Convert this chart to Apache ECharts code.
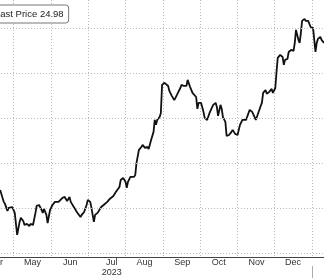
<!DOCTYPE html>
<html>
<head>
<meta charset="utf-8">
<script src="https://cdn.jsdelivr.net/npm/echarts@6/dist/echarts.min.js"></script>
<style>
html,body{margin:0;padding:0;background:#fff;}
#c{width:324px;height:278px;}
</style>
</head>
<body>
<div id="c"></div>
<script>
const dates = [
'2023-04-20','2023-04-22','2023-04-23','2023-04-24','2023-04-26','2023-04-27','2023-04-30',
'2023-05-01','2023-05-02','2023-05-04','2023-05-06','2023-05-07','2023-05-09','2023-05-10','2023-05-12','2023-05-14','2023-05-15','2023-05-17','2023-05-19','2023-05-20','2023-05-22','2023-05-24','2023-05-25','2023-05-26','2023-05-28','2023-05-29','2023-05-31',
'2023-06-02','2023-06-04','2023-06-07','2023-06-08','2023-06-10','2023-06-12','2023-06-14','2023-06-16','2023-06-17','2023-06-18','2023-06-20','2023-06-22','2023-06-25','2023-06-26','2023-06-28','2023-06-30',
'2023-07-01','2023-07-03','2023-07-04','2023-07-06','2023-07-07','2023-07-09','2023-07-10','2023-07-12','2023-07-14','2023-07-17','2023-07-19','2023-07-22','2023-07-24','2023-07-27','2023-07-28','2023-07-30',
'2023-08-01','2023-08-02','2023-08-03','2023-08-05','2023-08-06','2023-08-08','2023-08-09','2023-08-10','2023-08-12','2023-08-14','2023-08-15','2023-08-17','2023-08-19','2023-08-20','2023-08-22','2023-08-24','2023-08-25','2023-08-26','2023-08-27','2023-08-29','2023-08-30','2023-08-31',
'2023-09-02','2023-09-03','2023-09-05','2023-09-06','2023-09-08','2023-09-10','2023-09-11','2023-09-13','2023-09-15','2023-09-16','2023-09-18','2023-09-20','2023-09-21','2023-09-23','2023-09-25','2023-09-26','2023-09-28','2023-09-29','2023-09-30',
'2023-10-02','2023-10-04','2023-10-05','2023-10-07','2023-10-09','2023-10-10','2023-10-12','2023-10-14','2023-10-15','2023-10-16','2023-10-18','2023-10-19','2023-10-20','2023-10-22','2023-10-23','2023-10-25','2023-10-27','2023-10-28','2023-10-30',
'2023-11-01','2023-11-02','2023-11-03','2023-11-05','2023-11-06','2023-11-08','2023-11-10','2023-11-11','2023-11-13','2023-11-15','2023-11-16','2023-11-18','2023-11-20','2023-11-21','2023-11-22','2023-11-24','2023-11-25','2023-11-27','2023-11-29','2023-11-30',
'2023-12-02','2023-12-03','2023-12-04','2023-12-06','2023-12-08','2023-12-09','2023-12-10','2023-12-12','2023-12-13','2023-12-15','2023-12-17','2023-12-18','2023-12-19','2023-12-20','2023-12-21','2023-12-22','2023-12-23','2023-12-24','2023-12-26','2023-12-27','2023-12-29','2023-12-30','2023-12-31',
'2024-01-02','2024-01-03','2024-01-04','2024-01-05','2024-01-06','2024-01-08','2024-01-09','2024-01-11'
];
const prices = [
18.80,18.44,18.27,18.18,17.87,18.00,18.04,
17.91,17.78,16.80,17.38,17.56,17.42,17.24,17.29,17.20,17.29,17.24,17.78,18.09,18.13,17.91,17.78,17.96,17.69,17.33,17.91,
18.13,18.27,18.27,18.31,18.44,18.49,18.31,18.49,18.27,18.18,18.00,17.82,17.60,17.69,17.82,18.13,
18.36,18.27,18.00,17.38,17.69,17.78,17.82,18.04,18.13,18.27,18.40,18.53,18.71,18.93,19.24,19.33,
19.16,18.89,19.16,19.38,19.33,19.38,19.47,20.00,20.58,20.71,20.80,20.67,20.71,20.62,21.02,21.38,21.91,21.69,21.91,22.04,22.22,23.47,
23.56,23.60,23.42,23.20,22.98,22.80,22.89,23.11,23.33,23.47,23.42,23.42,23.69,23.38,23.11,23.07,22.93,22.40,22.67,
22.67,22.27,22.00,21.91,22.22,22.27,22.58,22.67,22.49,22.09,22.58,22.40,22.04,21.82,21.20,21.24,21.38,21.47,21.29,
21.24,21.29,21.69,21.91,21.96,21.91,22.22,22.36,22.27,22.04,21.91,22.22,22.53,22.67,23.11,23.24,23.07,23.16,23.29,23.11,
23.33,24.04,24.67,24.80,24.71,24.36,24.58,24.62,24.93,25.02,24.98,25.33,25.91,25.69,25.47,25.33,25.78,26.31,26.40,26.31,26.31,26.27,26.04,
26.00,25.47,24.93,25.33,25.51,25.60,25.47,25.33
];
const monthNames = ['Jan','Feb','Mar','Apr','May','Jun','Jul','Aug','Sep','Oct','Nov','Dec'];
const gridValues = [16,18,20,22,24,26];
const seriesName = 'Last Price';
const lastPrice = 24.98;
const yearLabel = '2023';

const chart = echarts.init(document.getElementById('c'), null, {renderer:'canvas'});
const font = "'Liberation Sans', Arial, sans-serif";
const option = {
  animation: false,
  backgroundColor: '#fff',
  textStyle: {fontFamily: font},
  grid: {left: -23, right: 0, top: 0, bottom: 21, containLabel: false, outerBoundsMode: 'none'},
  legend: {
    data: [seriesName],
    left: -29, top: 5,
    padding: [4, 5],
    borderColor: '#777', borderWidth: 1, borderRadius: 3,
    backgroundColor: '#fff',
    icon: 'rect', itemWidth: 14, itemHeight: 2,
    textStyle: {fontSize: 9.5, color: '#222', fontFamily: font},
    formatter: n => n + ' ' + lastPrice.toFixed(2)
  },
  xAxis: {
    type: 'time',
    min: '2023-04-01', max: '2024-01-11',
    minInterval: 28 * 86400000, maxInterval: 31 * 86400000,
    axisLine: {show: true, lineStyle: {color: '#444', width: 1}},
    axisTick: {show: false},
    splitLine: {show: true, lineStyle: {color: '#bbb', type: [1, 2], width: 1}},
    axisLabel: {
      align: 'left', margin: 1, hideOverlap: false, showMinLabel: true, showMaxLabel: true,
      color: '#333', fontSize: 9, fontFamily: font,
      formatter: function (v) {
        const d = new Date(v);
        if (d.getDate() !== 1) return '';
        const m = d.getMonth();
        if (m === 0) return '';
        if (m === 6) return '{m|' + monthNames[m] + '}\n{y|' + yearLabel + '}';
        return '{m|' + monthNames[m] + '}';
      },
      rich: {
        m: {width: 38, align: 'center', fontSize: 9, lineHeight: 10, color: '#333', fontFamily: font},
        y: {width: 48, align: 'center', fontSize: 9, lineHeight: 10, color: '#333', fontFamily: font}
      }
    }
  },
  yAxis: {
    type: 'value', min: 15.82, max: 27.24, show: false,
    splitLine: {show: false}
  },
  series: [{
    name: seriesName,
    type: 'line',
    data: dates.map((d, i) => [d, prices[i]]),
    showSymbol: false,
    symbol: 'none',
    lineStyle: {color: '#111', width: 1.8},
    itemStyle: {color: '#111'},
    markLine: {
      silent: true, symbol: 'none', animation: false,
      label: {show: false},
      lineStyle: {color: '#bbb', type: [1, 2], width: 1},
      data: gridValues.map(v => ({yAxis: v}))
    }
  }]
};
chart.setOption(option);
const xYear = chart.convertToPixel({xAxisIndex: 0}, new Date('2024-01-01T00:00:00').getTime());
chart.setOption({
  graphic: [{
    type: 'line', silent: true,
    shape: {x1: Math.round(xYear) + 0.5, y1: 266, x2: Math.round(xYear) + 0.5, y2: 278},
    style: {stroke: '#aaa', lineWidth: 1}
  }]
});
</script>
</body>
</html>
